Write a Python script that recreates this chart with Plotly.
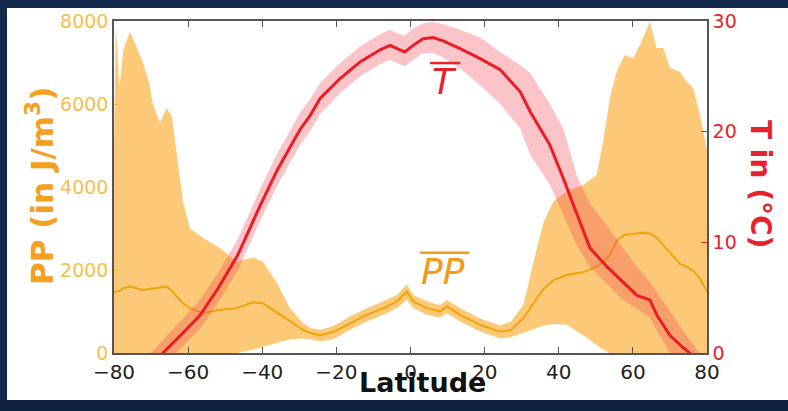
import plotly.graph_objects as go

# ---------------- data ----------------
lat_T = [-80, -75, -70, -66.8, -62, -56.8, -52, -46.6, -40.6, -36, -32.5, -29.8, -27, -24.4,
         -19, -13.6, -8.2, -5.5, -3.6, -1.5, 0.7, 3.4, 6.1, 8.8, 13.4, 18.8, 24.2, 29.6, 32.3,
         37.6, 41.2, 44.9, 48.4, 53, 57.3, 61.1, 64.6, 66.5, 70, 73.5, 75.4, 78, 80]
T_mean = [-6, -3.5, -1.2, 0, 1.6, 3.4, 5.8, 8.85, 13.3, 16.5, 18.6, 20.2, 21.5, 23,
          24.8, 26.3, 27.4, 27.8, 27.5, 27.2, 27.8, 28.4, 28.5, 28.2, 27.5, 26.6, 25.6, 23.6, 21.8,
          18.8, 15.8, 12.5, 9.5, 7.8, 6.4, 5.2, 4.8, 3.4, 1.6, 0.5, 0, -1, -2]
T_low = [-7.5, -5, -2.4, -1.2, 0.4, 2.2, 4.5, 7.5, 11.9, 15.1, 17.2, 18.8, 20.1, 21.6,
         23.5, 25, 26.1, 26.5, 26.2, 25.9, 26.5, 27.1, 27.1, 26.7, 25.7, 24.2, 22.5, 20.3, 17.9,
         15.2, 12.5, 9.7, 7.8, 6.2, 4.8, 4.0, 3.2, 2, 0, -1, -1.5, -2, -3]
T_high = [-4.5, -2, 0, 1.2, 2.9, 4.8, 7.2, 10.3, 14.8, 18, 20.1, 21.7, 23, 24.4,
          26.2, 27.7, 28.8, 29.2, 28.9, 28.7, 29.3, 29.8, 29.9, 29.7, 29.2, 28.5, 27.2, 26.0, 25.3,
          22.5, 20.3, 16, 13.5, 11.5, 9.5, 7.8, 6.4, 5.5, 3.8, 2, 1.2, 0, -1]

lat_PP = [-80, -79.5, -78.5, -77.5, -75.7, -74, -72.2, -70.5, -69.5, -67.6, -65.8, -64.4, -63.1,
          -61.4, -59.5, -56, -51.4, -46.9, -42.5, -39.8, -36.1, -32.5, -29, -27, -24.4, -20.8,
          -16.3, -11.8, -7.3, -3.7, -1, 0.8, 4.4, 8, 9.8, 13.4, 18.8, 24.2, 27, 30.5, 34.1, 36,
          38.5, 42.1, 46.6, 50.2, 52, 53.8, 55.6, 57.8, 60.1, 62.3, 64.6, 66.4, 68.2, 70, 72.7,
          74.5, 76.3, 78.1, 80]
PP_mean = [1450, 1480, 1500, 1560, 1600, 1560, 1520, 1540, 1560, 1580, 1600, 1500, 1360,
           1200, 1080, 960, 1040, 1080, 1220, 1200, 980, 760, 560, 480, 430, 510,
           720, 920, 1080, 1240, 1480, 1240, 1080, 1000, 1120, 920, 680, 510, 550, 840, 1320, 1550,
           1750, 1880, 1950, 2080, 2200, 2360, 2700, 2850, 2870, 2900, 2880, 2780, 2600, 2420, 2150,
           2080, 1980, 1800, 1480]
PP_low = [0, 0, 0, 0, 0, 0, 0, 0, 0, 0, 0, 0, 0,
          0, 0, 0, 0, 0, 80, 150, 250, 330, 350, 330, 280, 330,
          560, 760, 920, 1080, 1280, 1080, 920, 850, 960, 760, 520, 350, 380, 480, 600, 660,
          700, 680, 430, 190, 80, 0, 0, 0, 0, 0, 0, 0, 0, 0, 0,
          0, 0, 0, 0]
PP_high = [5000, 7900, 6400, 7300, 7750, 7400, 7000, 6500, 6000, 5550, 5900, 5700, 4800,
           3650, 3000, 2770, 2530, 2200, 2300, 2200, 1700, 1080, 720, 600, 560, 650,
           880, 1080, 1250, 1400, 1650, 1400, 1250, 1150, 1280, 1080, 830, 660, 750, 1160, 2530, 3160,
           3650, 3890, 4050, 4290, 5090, 6150, 6780, 7180, 7100, 7500, 7980, 7350, 7350, 6870, 6780,
           6540, 6380, 5740, 4900]

x_ticks = [-80, -60, -40, -20, 0, 20, 40, 60, 80]
pp_ticks = [0, 2000, 4000, 6000, 8000]
t_ticks = [0, 10, 20, 30]

# ---------------- styles ----------------
FONT = "DejaVu Sans"
NAVY = "#132a4c"
ORANGE_FILL = "rgba(250,165,30,0.6)"
ORANGE_LINE = "#f0a30a"
PINK_FILL = "rgba(238,70,85,0.32)"
RED = "#ec1c24"
PP_TICK_COL = "#f5c04a"
PP_TITLE_COL = "#f5a01e"
T_COL = "#e8222c"

fig = go.Figure()

# PP band
fig.add_trace(go.Scatter(x=lat_PP, y=PP_low, mode="lines", line=dict(width=0),
                         showlegend=False, hoverinfo="skip"))
fig.add_trace(go.Scatter(x=lat_PP, y=PP_high, mode="lines", line=dict(width=0),
                         fill="tonexty", fillcolor=ORANGE_FILL, showlegend=False))
fig.add_trace(go.Scatter(x=lat_PP, y=PP_mean, mode="lines",
                         line=dict(color=ORANGE_LINE, width=2), showlegend=False))

# T band
fig.add_trace(go.Scatter(x=lat_T, y=T_low, mode="lines", line=dict(width=0), yaxis="y2",
                         showlegend=False, hoverinfo="skip"))
fig.add_trace(go.Scatter(x=lat_T, y=T_high, mode="lines", line=dict(width=0), yaxis="y2",
                         fill="tonexty", fillcolor=PINK_FILL, showlegend=False))
fig.add_trace(go.Scatter(x=lat_T, y=T_mean, mode="lines", yaxis="y2",
                         line=dict(color=RED, width=3), showlegend=False))

W, H = 788, 411
ml, mr, mt, mb = 114, 81, 21, 58
pw, ph = W - ml - mr, H - mt - mb


def px(xp):
    return (xp - ml) / pw


def py(yp):
    return (H - mb - yp) / ph


fig.update_layout(
    template="none",
    width=W, height=H, autosize=False,
    margin=dict(l=ml, r=mr, t=mt, b=mb, pad=0),
    paper_bgcolor="white", plot_bgcolor="white",
    font=dict(family=FONT),
    showlegend=False,
    xaxis=dict(range=[-80, 80], tickvals=x_ticks,
               ticktext=[("\u2212" + str(-v)) if v < 0 else str(v) for v in x_ticks],
               ticks="inside", ticklen=6, tickcolor="#555", mirror="ticks",
               showline=True, linecolor="#555", linewidth=1.5, showgrid=False, zeroline=False,
               automargin=False,
               tickfont=dict(family=FONT, size=20, color="#222")),
    yaxis=dict(range=[0, 8000], tickvals=pp_ticks, ticks="inside", ticklen=6,
               tickcolor=PP_TICK_COL, showline=True, linecolor="#555", linewidth=1.5,
               showgrid=False, zeroline=False, automargin=False,
               tickfont=dict(family=FONT, size=19, color=PP_TICK_COL)),
    yaxis2=dict(range=[0, 30], tickvals=t_ticks, overlaying="y", side="right",
                ticks="inside", ticklen=6, tickcolor=T_COL, showline=True, linecolor="#555",
                linewidth=1.5, showgrid=False, zeroline=False, automargin=False,
                tickfont=dict(family=FONT, size=19, color=T_COL)),
)

# slide frame strips
shapes = [
    dict(type="rect", xref="paper", yref="paper", x0=px(-2), x1=px(7), y0=py(H + 2), y1=py(-2),
         fillcolor=NAVY, line=dict(width=0), layer="above"),
    dict(type="rect", xref="paper", yref="paper", x0=px(-2), x1=px(W + 2), y0=py(8), y1=py(-2),
         fillcolor=NAVY, line=dict(width=0), layer="above"),
    dict(type="rect", xref="paper", yref="paper", x0=px(-2), x1=px(W + 2), y0=py(H + 2), y1=py(400),
         fillcolor="#0f2240", line=dict(width=0), layer="above"),
    # overlines for labels
    dict(type="line", xref="x", yref="y2", x0=5.3, x1=13.4, y0=26.2, y1=26.2,
         line=dict(color=T_COL, width=2.5)),
    dict(type="line", xref="x", yref="y", x0=2.6, x1=15.8, y0=2417, y1=2417,
         line=dict(color="#f39a1a", width=2.5)),
]
fig.update_layout(shapes=shapes)

fig.add_annotation(x=9.05, y=24.5, xref="x", yref="y2", text="<i>T</i>", showarrow=False,
                   xanchor="center", yanchor="middle",
                   font=dict(family=FONT, size=36, color=T_COL))
fig.add_annotation(x=8.8, y=1965, xref="x", yref="y", text="<i>PP</i>", showarrow=False,
                   xanchor="center", yanchor="middle",
                   font=dict(family=FONT, size=36, color="#f39a1a"))

fig.add_annotation(x=px(40), y=py(186), xref="paper", yref="paper",
                   xanchor="center", yanchor="middle",
                   text="<b>PP (in J/m<sup>3</sup>)</b>", textangle=-90, showarrow=False,
                   font=dict(family=FONT, size=31, color=PP_TITLE_COL))
fig.add_annotation(x=px(761), y=py(184), xref="paper", yref="paper",
                   xanchor="center", yanchor="middle",
                   text="<b>T in (°C)</b>", textangle=90, showarrow=False,
                   font=dict(family=FONT, size=28, color=T_COL))
fig.add_annotation(x=px(422.5), y=py(382), xref="paper", yref="paper",
                   xanchor="center", yanchor="middle",
                   text="<b>Latitude</b>", showarrow=False,
                   font=dict(family=FONT, size=27, color="#111"))

fig.write_html(
    "out.html",
    post_script=(
        "document.documentElement.style.overflow='hidden';"
        "document.body.style.overflow='hidden';"
        "document.documentElement.style.background='white';"
        "document.body.style.background='white';"
        "document.body.style.margin='0';"
    ),
)
